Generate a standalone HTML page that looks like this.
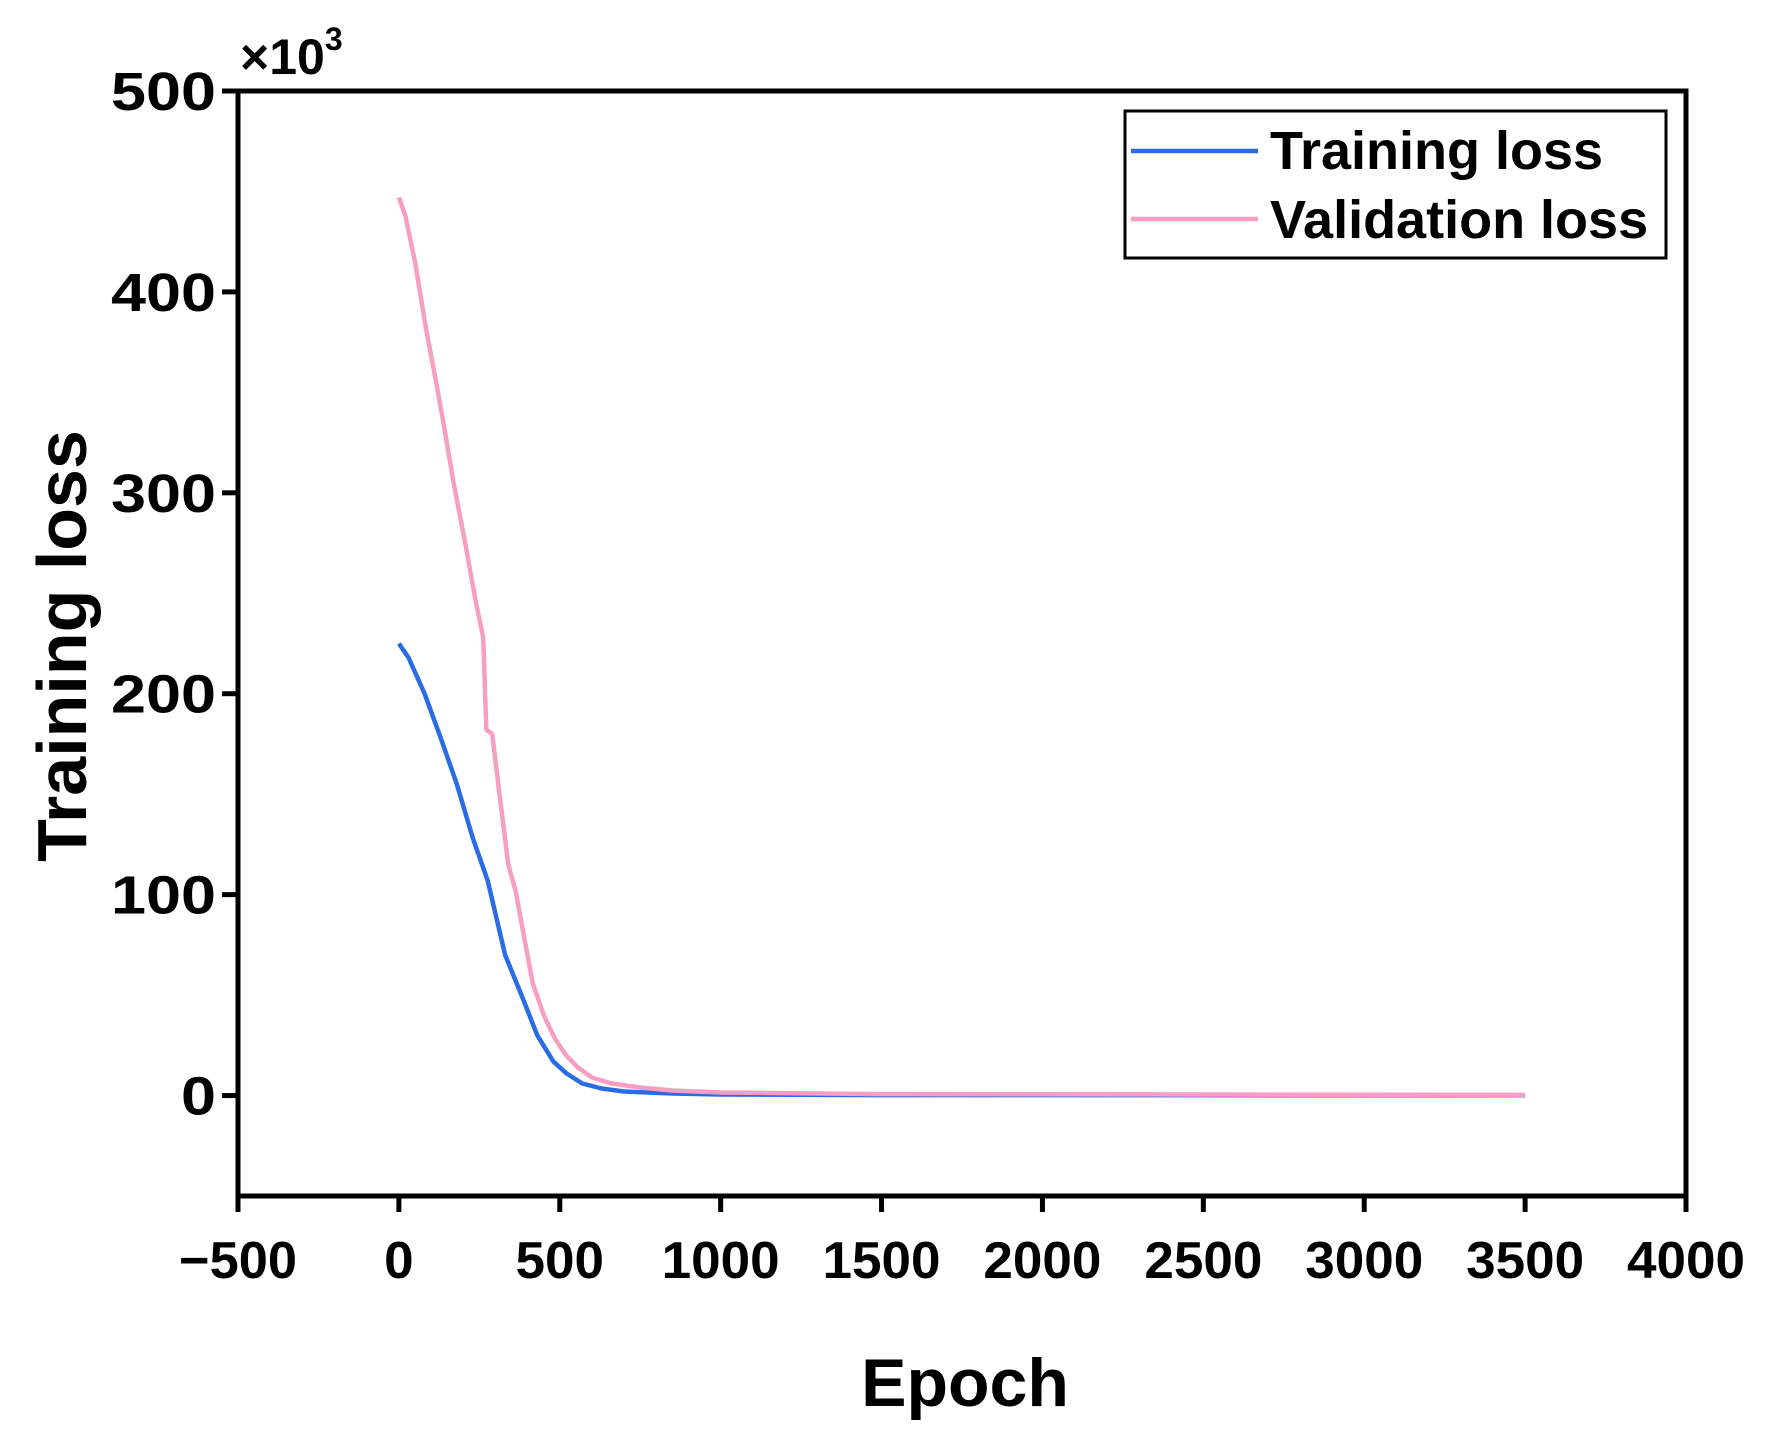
<!DOCTYPE html>
<html><head><meta charset="utf-8"><style>
html,body{margin:0;padding:0;background:#fff;}
svg{display:block;font-family:"Liberation Sans",Arial,sans-serif;font-weight:bold;}
</style></head><body>
<svg id="chart" width="1767" height="1445" viewBox="0 0 1767 1445" xmlns="http://www.w3.org/2000/svg">
<g id="grid"></g>
<g id="series"></g>
<g id="axes"></g>
</svg>
<script>
const xTicks = [-500, 0, 500, 1000, 1500, 2000, 2500, 3000, 3500, 4000];
const yTicks = [0, 100, 200, 300, 400, 500];
const trainEpochs = [0, 30, 80, 130, 180, 230, 276, 330, 381, 430, 480, 521, 570, 630, 700, 850, 1000, 1500, 3500];
const trainLoss = [225, 218, 200, 178, 155, 128, 107, 70, 50, 30, 17, 11, 6, 3.5, 2, 1, 0.5, 0.2, 0.1];
const valEpochs = [0, 20, 50, 84, 110, 136, 170, 206, 240, 262, 268, 272, 290, 311, 340, 364, 390, 416, 450, 486, 520, 556, 600, 661, 750, 850, 1000, 1500, 3500];
const valLoss = [447, 438, 415, 382, 360, 337, 305, 275, 245, 228, 200, 182, 180, 152, 115, 101, 78, 56, 40, 28, 20, 14, 9, 6, 4, 2.5, 1.5, 0.7, 0.3];

const NS = "http://www.w3.org/2000/svg";
const L = 238, R = 1686, T = 91, B = 1196;
const xMin = -500, xMax = 4000, yMin = -50, yMax = 500;
function xs(v){ return L + (v - xMin) / (xMax - xMin) * (R - L); }
function ys(v){ return B - (v - yMin) / (yMax - yMin) * (B - T); }
function mk(tag, attrs, parent){
  const e = document.createElementNS(NS, tag);
  for (const k in attrs) e.setAttribute(k, attrs[k]);
  parent.appendChild(e);
  return e;
}
const series = document.getElementById('series');
const axes = document.getElementById('axes');

function drawLine(ex, ey, color, name){
  const d = ex.map((e, i) => (i ? 'L' : 'M') + xs(e).toFixed(1) + ' ' + ys(ey[i]).toFixed(1)).join(' ');
  const p = mk('path', {d: d, fill: 'none', stroke: color, 'stroke-width': 4.5, 'stroke-linejoin': 'round'}, series);
  
  
}
drawLine(trainEpochs, trainLoss, '#2a6ce6', 'training-loss-line');
drawLine(valEpochs, valLoss, '#f99ec3', 'validation-loss-line');

const frame = mk('rect', {x: L, y: T, width: R - L, height: B - T, fill: 'none', stroke: '#000', 'stroke-width': 5}, axes);



xTicks.forEach(v => {
  const x = xs(v);
  const t = mk('line', {x1: x, y1: B, x2: x, y2: B + 16, stroke: '#000', 'stroke-width': 5}, axes);
  
  
  const txt = v < 0 ? '\u2212' + Math.abs(v) : String(v);
  const lb = mk('text', {x: x, y: 1278, 'text-anchor': 'middle', 'font-size': 52, textLength: txt.length * 29.5, lengthAdjust: 'spacingAndGlyphs'}, axes);
  lb.textContent = txt;
  
  
});
yTicks.forEach(v => {
  const y = ys(v);
  const t = mk('line', {x1: L - 16, y1: y, x2: L, y2: y, stroke: '#000', 'stroke-width': 5}, axes);
  
  
  const txt = String(v);
  const lb = mk('text', {x: 216, y: y + 19, 'text-anchor': 'end', 'font-size': 54, textLength: txt.length * 35, lengthAdjust: 'spacingAndGlyphs'}, axes);
  lb.textContent = txt;
  
  
});
</script>
<svg style="position:absolute;left:0;top:0" width="1767" height="1445" xmlns="http://www.w3.org/2000/svg">
<text x="240" y="74" font-size="50" font-family="Liberation Sans, sans-serif" font-weight="bold">×10<tspan dy="-24" font-size="32">3</tspan></text>
<text transform="translate(86,646) rotate(-90)" text-anchor="middle" font-size="70" font-family="Liberation Sans, sans-serif" font-weight="bold">Training loss</text>
<text x="965" y="1406" text-anchor="middle" font-size="68" font-family="Liberation Sans, sans-serif" font-weight="bold">Epoch</text>
<g>
<rect x="1125" y="111" width="541" height="147" fill="#fff" stroke="#000" stroke-width="3"/>
<line x1="1131" y1="151" x2="1258" y2="151" stroke="#2a6ce6" stroke-width="4.5"/>
<text x="1270" y="169" font-size="54" font-family="Liberation Sans, sans-serif" font-weight="bold">Training loss</text>
<line x1="1131" y1="219" x2="1258" y2="219" stroke="#f99ec3" stroke-width="4.5"/>
<text x="1270" y="238" font-size="54" font-family="Liberation Sans, sans-serif" font-weight="bold">Validation loss</text>
</g>
</svg>
</body></html>
